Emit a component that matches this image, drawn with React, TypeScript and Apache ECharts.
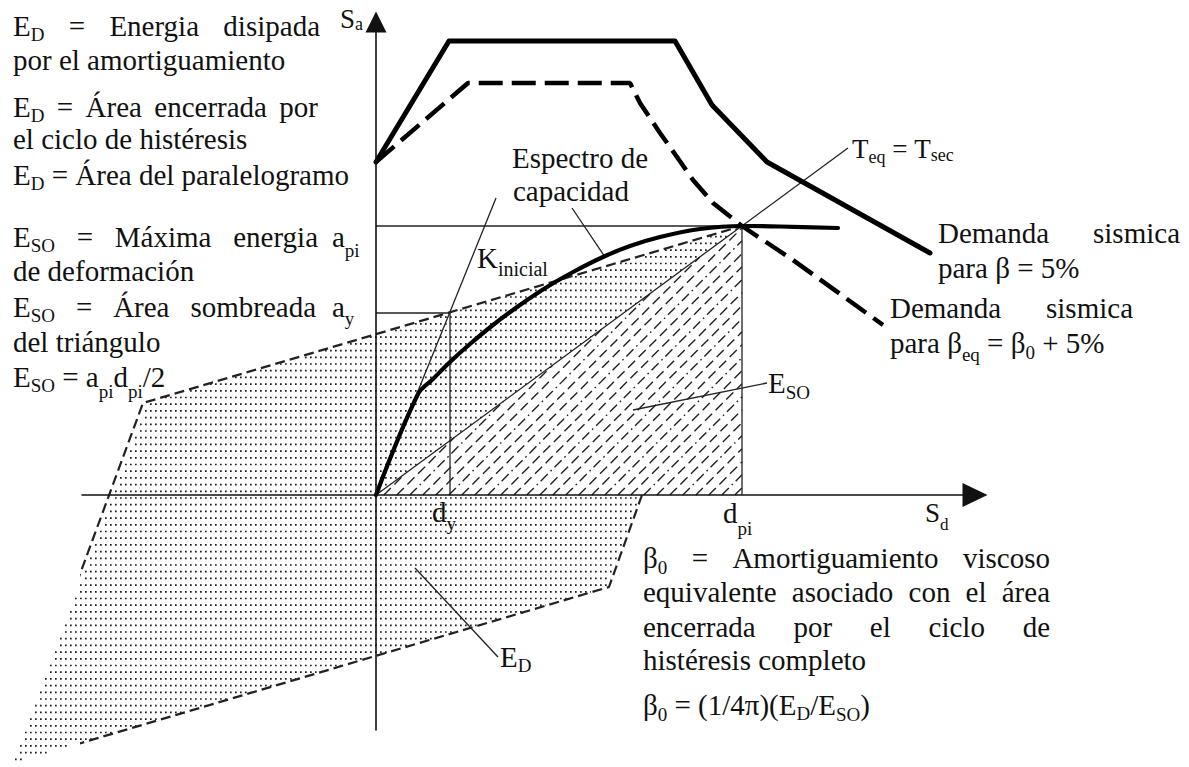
import React, { useEffect, useRef } from "react";
import * as echarts from "echarts";

// ---- Spectral values (Sd horizontal, Sa vertical), in drawing units ----
const capacitySd = [0, 42, 57, 74, 94, 117, 144, 171, 199, 227, 254, 284, 324, 366, 404, 462];
const capacitySa = [0, 101, 116, 133, 151, 170, 190, 208, 224, 238, 249, 258, 266, 269, 268.5, 267];

const demand5Sd = [0, 73, 299, 336, 391, 554];
const demand5Sa = [333, 454, 454, 390, 333, 242];

const demandEqSd = [0, 92, 254, 264, 284, 301, 317, 337, 366, 417, 507];
const demandEqSa = [333, 412, 412, 392, 362, 338, 315, 292, 269, 235, 170];

// hysteresis parallelogram corners: performance point, upper-left, lower-left, lower-right
const loopSd = [366, -233, -366, 233];
const loopSa = [269, 92, -269, -92];
const loopRightEdgeAtAxis = 266;

const dpi = 366;
const api_ = 269;
const dy_ = 74;
const ay_ = 182;

const kInicialTop = [120, 297];
const secantTop = [472, 347];
const espectroLeader = [[196, 287], [229, 238]];
const esoLeader = [[257, 85], [391, 112]];
const edLeader = [[39, -73], [122, -162]];

const X_MIN = -294;
const X_MAX = 599;
const Y_MIN = -235;
const Y_MAX = 473;

const SERIF = "Liberation Serif";
const FS = 29;
const SUB = 19;

type Ann = { t: string; x: number; y: number; j?: number; size?: number; subSize?: number; subDy?: number };

const annotations: Ann[] = [
  { t: "E_{D} = Energia disipada", x: 13, y: 36, j: 320 },
  { t: "por el amortiguamiento", x: 13, y: 70 },
  { t: "E_{D} = Área encerrada por", x: 13, y: 117, j: 318 },
  { t: "el ciclo de histéresis", x: 13, y: 149 },
  { t: "E_{D} = Área del paralelogramo", x: 13, y: 185 },
  { t: "E_{SO} = Máxima energia", x: 13, y: 247, j: 318 },
  { t: "de deformación", x: 13, y: 281 },
  { t: "E_{SO} = Área sombreada", x: 13, y: 317, j: 316 },
  { t: "del triángulo", x: 13, y: 352 },
  { t: "E_{SO} = a_{pi:11}d_{pi:11}/2", x: 13, y: 387 },
  { t: "a_{pi:10}", x: 332, y: 247 },
  { t: "a_{y:8}", x: 332, y: 317 },
  { t: "S_{a:2}", x: 340, y: 28, size: 27, subSize: 18 },
  { t: "K_{inicial:8}", x: 477, y: 268, subSize: 20 },
  { t: "Espectro de", x: 512, y: 168 },
  { t: "capacidad", x: 513, y: 201 },
  { t: "T_{eq:5} = T_{sec:3}", x: 852, y: 158, size: 27, subSize: 18 },
  { t: "Demanda sismica", x: 938, y: 243, j: 1180 },
  { t: "para β = 5%", x: 938, y: 278 },
  { t: "Demanda sismica", x: 890, y: 318, j: 1133 },
  { t: "para β_{eq:8} = β_{0:6} + 5%", x: 890, y: 353 },
  { t: "E_{SO:6}", x: 768, y: 393 },
  { t: "d_{y:8}", x: 432, y: 522 },
  { t: "d_{pi:12}", x: 723, y: 523 },
  { t: "S_{d:8}", x: 925, y: 522, size: 27, subSize: 17 },
  { t: "E_{D:5}", x: 500, y: 667 },
  { t: "β_{0:6} = Amortiguamiento viscoso", x: 643, y: 568, j: 1050 },
  { t: "equivalente asociado con el área", x: 643, y: 602, j: 1050 },
  { t: "encerrada por el ciclo de", x: 643, y: 637, j: 1050 },
  { t: "histéresis completo", x: 643, y: 670 },
  { t: "β_{0:6} = (1/4π)(E_{D:5}/E_{SO:6})", x: 643, y: 715 },
];

type Seg = { t: string; sub: boolean; dy?: number };

function parseWord(word: string): Seg[] {
  const segs: Seg[] = [];
  const re = /_\{([^}]*)\}/g;
  let last = 0;
  let m: RegExpExecArray | null;
  while ((m = re.exec(word))) {
    if (m.index > last) segs.push({ t: word.slice(last, m.index), sub: false });
    const [txt, off] = m[1].split(":");
    segs.push({ t: txt, sub: true, dy: off !== undefined ? Number(off) : undefined });
    last = re.lastIndex;
  }
  if (last < word.length) segs.push({ t: word.slice(last), sub: false });
  return segs;
}

function buildTexts() {
  const canvas = document.createElement("canvas");
  const ctx = canvas.getContext("2d")!;
  const measure = (s: string, size: number) => {
    ctx.font = `${size}px ${SERIF}`;
    return ctx.measureText(s).width;
  };
  const out: any[] = [];
  annotations.forEach((a) => {
    const size = a.size ?? FS;
    const subSize = a.subSize ?? SUB;
    const subDy = a.subDy ?? 5;
    const words = a.t.split(" ").map(parseWord);
    const widths = words.map((w) =>
      w.reduce((s, g) => s + measure(g.t, g.sub ? subSize : size), 0)
    );
    const total = widths.reduce((s, v) => s + v, 0);
    const gap =
      a.j !== undefined && words.length > 1
        ? (a.j - a.x - total) / (words.length - 1)
        : measure(" ", size);
    let cx = a.x;
    words.forEach((w, wi) => {
      w.forEach((g) => {
        const fs = g.sub ? subSize : size;
        const base = a.y + (g.sub ? g.dy ?? subDy : 0);
        out.push({
          type: "text",
          silent: true,
          z: 100,
          x: cx,
          y: base - 0.34 * fs,
          style: {
            text: g.t,
            fill: "#111",
            font: `${fs}px ${SERIF}`,
            fontSize: fs,
            fontFamily: SERIF,
            align: "left",
            verticalAlign: "middle",
          },
        });
        cx += measure(g.t, fs);
      });
      if (wi < words.length - 1) cx += gap;
    });
  });
  return out;
}

const zip = (xs: number[], ys: number[]) => xs.map((x, i) => [x, ys[i]]);

function thin(data: number[][], z = 4) {
  return {
    type: "line",
    data,
    showSymbol: false,
    symbol: "none",
    clip: false,
    silent: true,
    z,
    lineStyle: { color: "#222", width: 1.3 },
  };
}

function buildOption() {
  const dotsSeries = {
    type: "custom",
    coordinateSystem: "cartesian2d",
    clip: false,
    silent: true,
    z: 1,
    data: [[0, 0]],
    renderItem: (_p: any, api: any) => {
      const poly = loopSd.map((d, i) => api.coord([d, loopSa[i]]));
      const ys = poly.map((p: number[]) => p[1]);
      const top = Math.min(...ys);
      const bottom = Math.max(...ys);
      const rowGap = 6.7;
      const colGap = 5;
      const children: any[] = [];
      for (let y = top + 4; y < bottom - 2; y += rowGap) {
        const xs: number[] = [];
        for (let i = 0; i < poly.length; i++) {
          const p = poly[i];
          const q = poly[(i + 1) % poly.length];
          if ((y - p[1]) * (y - q[1]) <= 0 && p[1] !== q[1]) {
            xs.push(p[0] + ((q[0] - p[0]) * (y - p[1])) / (q[1] - p[1]));
          }
        }
        if (xs.length < 2) continue;
        const x1 = Math.min(...xs) + 3;
        const x2 = Math.max(...xs) - 2;
        const start = Math.ceil(x1 / colGap) * colGap;
        if (x2 - start < 1) continue;
        children.push({
          type: "line",
          shape: { x1: start, y1: y, x2, y2: y },
          style: { stroke: "#1e1e1e", lineWidth: 1.7, lineDash: [1.7, colGap - 1.7] },
        });
      }
      return { type: "group", children };
    },
  };

  const hatchSeries = {
    type: "custom",
    coordinateSystem: "cartesian2d",
    clip: false,
    silent: true,
    z: 2,
    data: [[0, 0]],
    renderItem: (_p: any, api: any) => {
      const O = api.coord([0, 0]);
      const A = api.coord([dpi, api_]);
      const P = api.coord([dpi, 0]);
      const children: any[] = [
        { type: "polygon", shape: { points: [O, A, P] }, style: { fill: "#fff" } },
      ];
      const m = (O[1] - A[1]) / (A[0] - O[0]);
      const gap = 13;
      let k = 0;
      for (let c = O[0] + gap * 0.6; c < A[0] - 1; c += gap, k++) {
        const t = Math.min(A[0] - c, (m * (c - O[0])) / (1 - m));
        const dash = k % 3 === 2 ? [10, 4, 1.6, 4] : [10, 5];
        children.push({
          type: "line",
          shape: { x1: c, y1: O[1], x2: c + t, y2: O[1] - t },
          style: { stroke: "#222", lineWidth: 1.4, lineDash: dash },
        });
      }
      return { type: "group", children };
    },
  };

  const loopOutline = [
    [loopRightEdgeAtAxis, 0],
    [loopSd[3], loopSa[3]],
    [loopSd[2], loopSa[2]],
    [loopSd[1], loopSa[1]],
    [loopSd[0], loopSa[0]],
  ];

  const axisCommon = {
    type: "value",
    axisTick: { show: false },
    axisLabel: { show: false },
    splitLine: { show: false },
    z: 10,
  };

  return {
    animation: false,
    backgroundColor: "#fff",
    grid: { left: 82, top: 22, width: 893, height: 708 },
    xAxis: {
      ...axisCommon,
      min: X_MIN,
      max: X_MAX,
      axisLine: {
        show: true,
        onZero: true,
        symbol: ["none", "triangle"],
        symbolSize: [24, 25],
        lineStyle: { color: "#111", width: 1.6 },
      },
    },
    yAxis: {
      ...axisCommon,
      min: Y_MIN,
      max: Y_MAX,
      axisLine: {
        show: true,
        onZero: true,
        symbol: ["none", "triangle"],
        symbolSize: [21, 21],
        lineStyle: { color: "#111", width: 1.6 },
      },
    },
    series: [
      dotsSeries,
      hatchSeries,
      {
        type: "line",
        data: loopOutline,
        showSymbol: false,
        symbol: "none",
        clip: false,
        silent: true,
        z: 3,
        lineStyle: { color: "#222", width: 2.2, type: [10, 5] },
      },
      thin([[0, api_], [dpi, api_]]),
      thin([[dpi, 0], [dpi, api_]]),
      thin([[0, ay_], [dy_, ay_]]),
      thin([[dy_, 0], [dy_, ay_]]),
      thin([[0, 0], kInicialTop]),
      thin([[0, 0], secantTop]),
      thin(espectroLeader),
      thin(esoLeader),
      thin(edLeader),
      {
        type: "line",
        data: zip(demand5Sd, demand5Sa),
        showSymbol: false,
        symbol: "none",
        clip: false,
        silent: true,
        z: 5,
        lineStyle: { color: "#000", width: 5, join: "round", cap: "round" },
      },
      {
        type: "line",
        data: zip(demandEqSd, demandEqSa),
        showSymbol: false,
        symbol: "none",
        clip: false,
        silent: true,
        z: 5,
        lineStyle: { color: "#000", width: 4.5, type: [24, 9] },
      },
      {
        type: "line",
        data: zip(capacitySd, capacitySa),
        showSymbol: false,
        symbol: "none",
        smooth: 0.35,
        clip: false,
        silent: true,
        z: 5,
        lineStyle: { color: "#000", width: 4.2, cap: "round" },
      },
    ],
    graphic: { elements: buildTexts() },
  };
}

export default function App() {
  const ref = useRef<HTMLDivElement>(null);
  useEffect(() => {
    if (!ref.current) return;
    const chart = echarts.init(ref.current, undefined, { renderer: "svg" });
    chart.setOption(buildOption() as any);
    return () => chart.dispose();
  }, []);
  return (
    <div
      ref={ref}
      style={{ position: "fixed", left: 0, top: 0, width: 1189, height: 767, background: "#fff" }}
    />
  );
}
